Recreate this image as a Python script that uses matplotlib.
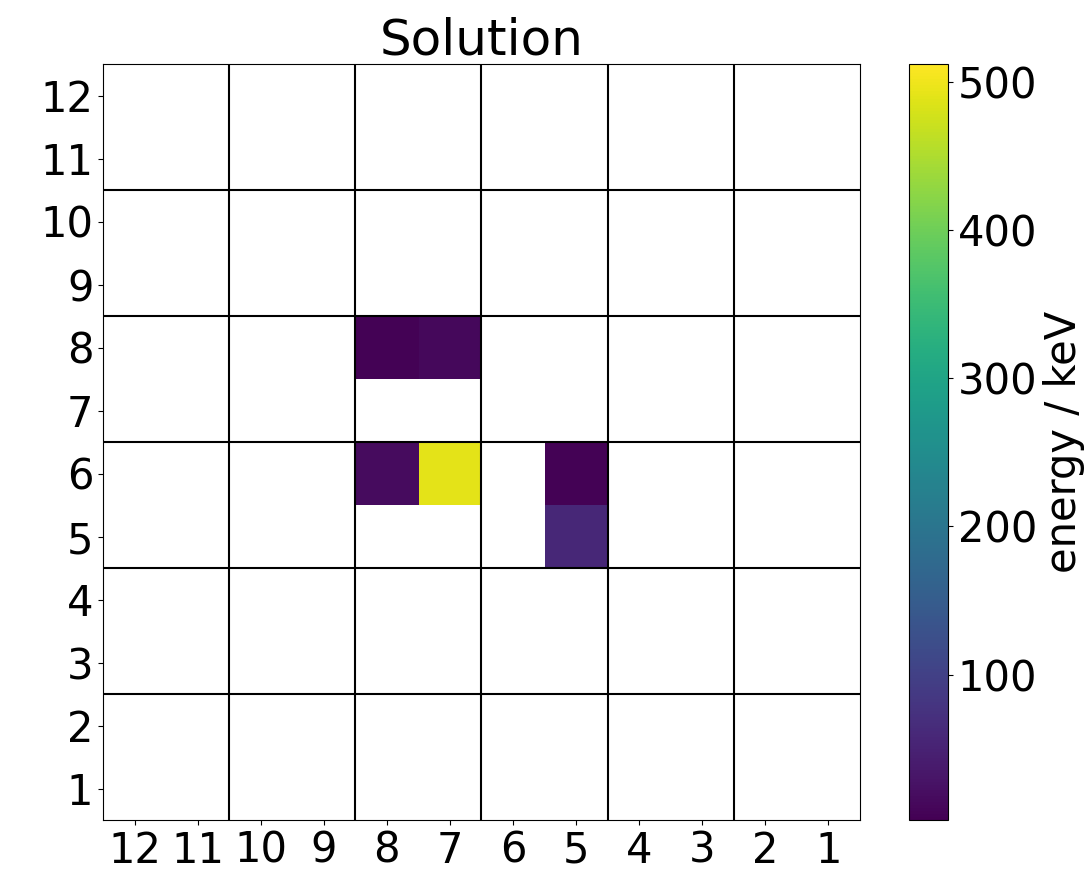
import numpy as np
import matplotlib
matplotlib.use("Agg")
import matplotlib.pyplot as plt

# detector pixel grid, 12 x 12
n_pix = 12
# hit pixels: (x, y, energy in keV)
hit_x = [8, 7, 8, 7, 5, 5]
hit_y = [8, 8, 6, 6, 6, 5]
hit_e = [4, 12, 16, 492, 5, 58]
e_min, e_max = 2, 512

grid = np.full((n_pix, n_pix), np.nan)
for x, y, e in zip(hit_x, hit_y, hit_e):
    grid[y - 1, x - 1] = e

fig = plt.figure(figsize=(10.92, 8.74), dpi=100)
ax = fig.add_axes([103 / 1092, 1 - 820 / 874, 757 / 1092, 756 / 874])
cax = fig.add_axes([909 / 1092, 1 - 820 / 874, 39 / 1092, 756 / 874])

im = ax.imshow(grid, origin='lower', cmap='viridis', vmin=e_min, vmax=e_max,
               extent=(0.5, n_pix + 0.5, 0.5, n_pix + 0.5), aspect='auto')
ax.set_xlim(n_pix + 0.5, 0.5)
ax.set_ylim(0.5, n_pix + 0.5)

# module boundaries every 2 pixels
for b in np.arange(2.5, n_pix, 2):
    ax.axhline(b, color='black', linewidth=1.5)
    ax.axvline(b, color='black', linewidth=1.5)

ticks = np.arange(1, n_pix + 1)
ax.set_xticks(ticks)
ax.set_yticks(ticks)
ax.tick_params(labelsize=30)
ax.set_title('Solution', fontsize=36)

cb = fig.colorbar(im, cax=cax)
cb.ax.tick_params(labelsize=30)
cb.set_label('energy / keV', fontsize=30)

fig.savefig('out.png', dpi=100)
